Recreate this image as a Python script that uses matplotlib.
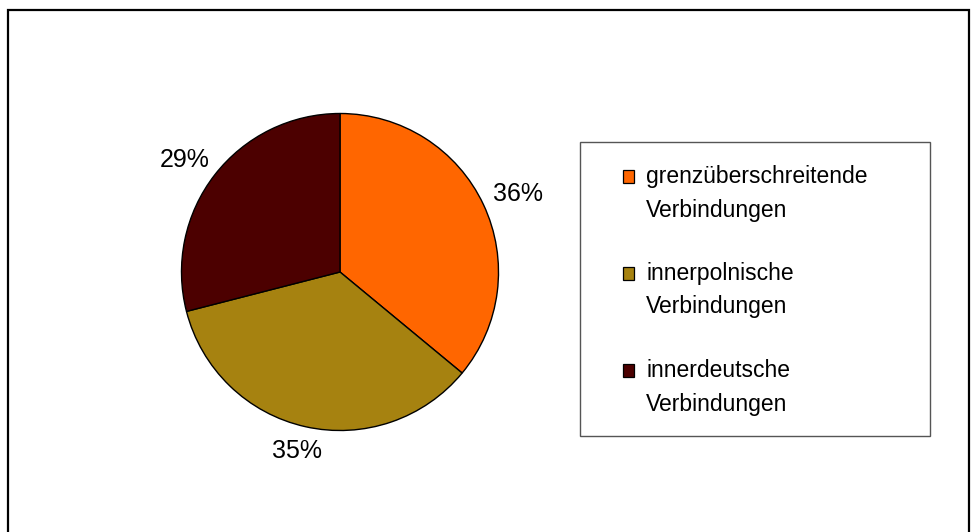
import matplotlib
matplotlib.use("Agg")
import numpy as np
import matplotlib.pyplot as plt
from matplotlib.patches import Rectangle
from matplotlib.lines import Line2D

plt.rcParams['font.family'] = ['Liberation Sans', 'DejaVu Sans']

categories = ["grenzüberschreitende\nVerbindungen",
              "innerpolnische\nVerbindungen",
              "innerdeutsche\nVerbindungen"]
shares = [36, 35, 29]
colors = ["#FF6600", "#A68210", "#4C0000"]

W, H = 972, 532
fig = plt.figure(figsize=(W / 100, H / 100), dpi=100)
fig.patch.set_facecolor("white")

# pie axes: square in pixels, centred at (340, 272) from top-left
cx, cy, r = 340, 272, 158.5
ax = fig.add_axes([(cx - r) / W, (H - cy - r) / H, 2 * r / W, 2 * r / H])
wedges, texts, autotexts = ax.pie(
    shares, colors=colors, startangle=90, counterclock=False,
    autopct="%1.0f%%", pctdistance=1.2,
    wedgeprops=dict(edgecolor="black", linewidth=1.0),
    textprops=dict(fontsize=18, color="black"))
ax.set_xlim(-1, 1)
ax.set_ylim(-1, 1)
ax.set_aspect("equal")
ax.axis("off")

# push each percentage label outward so its box sits just outside the rim
fig.canvas.draw()
renderer = fig.canvas.get_renderer()
for w, t in zip(wedges, autotexts):
    mid = np.deg2rad((w.theta1 + w.theta2) / 2)
    bb = t.get_window_extent(renderer)
    half_w = bb.width / 2 / r
    half_h = bb.height / 2 / r
    rr = 1.08
    t.set_position((rr * np.cos(mid) + half_w * np.cos(mid),
                    rr * np.sin(mid) + half_h * np.sin(mid)))
    t.set_ha("center")
    t.set_va("center")

def px(x, y):
    return x / W, 1 - y / H

# outer frame (open at the bottom)
frame = Line2D([8 / W, 8 / W, 969 / W, 969 / W],
               [0, 1 - 10 / H, 1 - 10 / H, 0],
               transform=fig.transFigure, color="black", linewidth=1.6,
               solid_joinstyle="miter")
fig.add_artist(frame)

# legend box
x0, y0, x1, y1 = 579.5, 142, 930, 436
fig.add_artist(Rectangle(px(x0, y1), (x1 - x0) / W, (y1 - y0) / H,
                         transform=fig.transFigure, facecolor="white",
                         edgecolor="#555555", linewidth=1.0))

first_baseline = 183
entry_step = 97
line_step = 33.5
for i, (label, col) in enumerate(zip(categories, colors)):
    base = first_baseline + i * entry_step
    fig.add_artist(Rectangle(px(623, base), 11 / W, 13 / H,
                             transform=fig.transFigure, facecolor=col,
                             edgecolor="black", linewidth=0.9))
    for j, line in enumerate(label.split("\n")):
        tx, ty = px(646, base + j * line_step)
        fig.text(tx, ty, line, fontsize=16.5, ha="left", va="baseline",
                 color="black")

fig.savefig("out.png", dpi=100, facecolor="white")
